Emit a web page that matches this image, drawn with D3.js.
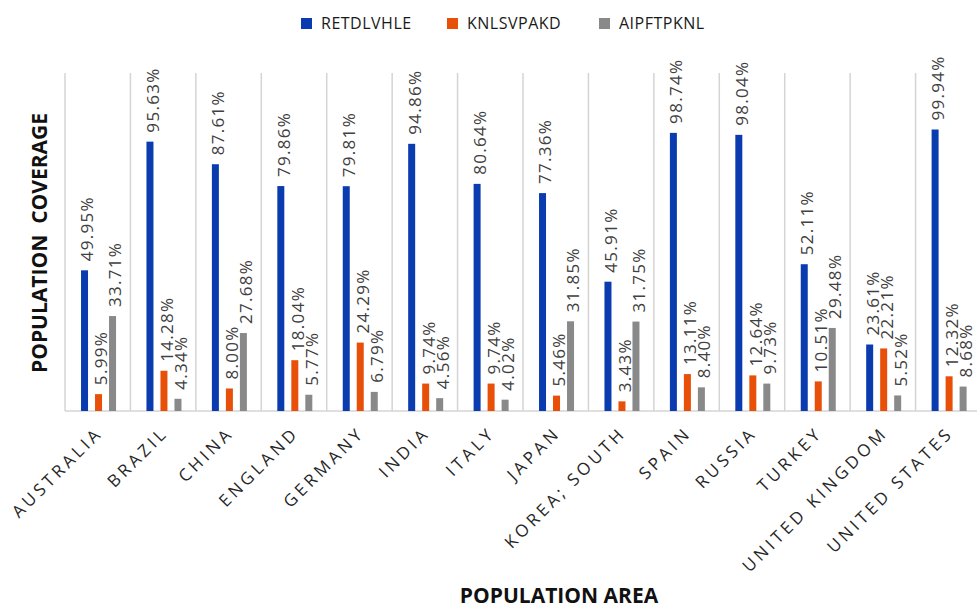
<!DOCTYPE html>
<html>
<head>
<meta charset="utf-8">
<script src="https://cdn.jsdelivr.net/npm/d3@7"></script>
<style>
  body { margin: 0; background: #fff; }
  svg { display: block; font-family: "Open Sans", sans-serif; }
  .gridLine { stroke: #d4d4d4; stroke-width: 1.5; }
  .dataLabel { font-size: 17px; fill: #404040; letter-spacing: 1.3px; }
  .catLabel { font-size: 17px; fill: #262626; letter-spacing: 3.6px; }
  .axisTitle { font-size: 21px; font-weight: bold; fill: #111; white-space: pre; }
  .legendText { font-size: 16px; fill: #1a1a1a; letter-spacing: 0.5px; }
</style>
</head>
<body>
<script>
(function(){
var categories = ["AUSTRALIA", "BRAZIL", "CHINA", "ENGLAND", "GERMANY", "INDIA", "ITALY", "JAPAN", "KOREA; SOUTH", "SPAIN", "RUSSIA", "TURKEY", "UNITED KINGDOM", "UNITED STATES"];
var seriesNames = ["RETDLVHLE", "KNLSVPAKD", "AIPFTPKNL"];
var seriesColors = ["#0a3caf", "#e8500a", "#898989"];
var retdlvhle = [49.95, 95.63, 87.61, 79.86, 79.81, 94.86, 80.64, 77.36, 45.91, 98.74, 98.04, 52.11, 23.61, 99.94];
var knlsvpakd = [5.99, 14.28, 8.00, 18.04, 24.29, 9.74, 9.74, 5.46, 3.43, 13.11, 12.64, 10.51, 22.21, 12.32];
var aipftpknl = [33.71, 4.34, 27.68, 5.77, 6.79, 4.56, 4.02, 31.85, 31.75, 8.40, 9.73, 29.48, 5.52, 8.68];
var seriesValues = [retdlvhle, knlsvpakd, aipftpknl];

var width = 977, height = 609;
var plotLeft = 65, plotRight = 981, plotTop = 73, plotBottom = 411;

var svg = d3.select("body").append("svg")
    .attr("width", width)
    .attr("height", height);

//scales
var x = d3.scaleBand()
    .domain(categories)
    .range([plotLeft, plotRight])
    .paddingInner(0);

var xInner = d3.scaleBand()
    .domain(seriesNames)
    .range([x.bandwidth() * 0.245, x.bandwidth() * 0.78])
    .paddingInner(0.5);

var y = d3.scaleLinear()
    .domain([0, 120])
    .range([plotBottom, plotTop]);

//vertical grid lines at category boundaries
var bounds = categories.map(function(c){ return x(c); }).concat([plotRight]);
svg.selectAll(".gridLine")
    .data(bounds)
    .enter()
    .append("line")
    .attr("class", "gridLine")
    .attr("x1", function(d){ return d; })
    .attr("x2", function(d){ return d; })
    .attr("y1", plotTop)
    .attr("y2", plotBottom);

//baseline
svg.append("line")
    .attr("class", "gridLine")
    .attr("x1", plotLeft)
    .attr("x2", plotRight)
    .attr("y1", plotBottom)
    .attr("y2", plotBottom);

//flatten data
var rows = [];
categories.forEach(function(c, i){
    seriesNames.forEach(function(s, j){
        rows.push({cat: c, series: s, value: seriesValues[j][i], color: seriesColors[j]});
    });
});

//bars
svg.selectAll(".bar")
    .data(rows)
    .enter()
    .append("rect")
    .attr("class", "bar")
    .attr("x", function(d){ return x(d.cat) + xInner(d.series); })
    .attr("width", xInner.bandwidth())
    .attr("y", function(d){ return y(d.value); })
    .attr("height", function(d){ return y(0) - y(d.value); })
    .style("fill", function(d){ return d.color; });

//data labels, rotated
svg.selectAll(".dataLabel")
    .data(rows)
    .enter()
    .append("text")
    .attr("class", "dataLabel")
    .attr("transform", function(d){
        var cx = x(d.cat) + xInner(d.series) + xInner.bandwidth() / 2 + 3;
        var cy = y(d.value) - 9;
        return "translate(" + cx + "," + cy + ") rotate(-90)";
    })
    .attr("dy", "0.35em")
    .attr("text-anchor", "start")
    .text(function(d){ return d.value.toFixed(2) + "%"; });

//category labels
svg.selectAll(".catLabel")
    .data(categories)
    .enter()
    .append("text")
    .attr("class", "catLabel")
    .attr("transform", function(d){
        var cx = x(d) + x.bandwidth() / 2 + 6;
        return "translate(" + cx + "," + 434 + ") rotate(-45)";
    })
    .attr("text-anchor", "end")
    .text(function(d){ return d; });

//axis titles
svg.append("text")
    .attr("class", "axisTitle")
    .attr("transform", "translate(47,243) rotate(-90)")
    .attr("text-anchor", "middle")
    .text("POPULATION  COVERAGE");

svg.append("text")
    .attr("class", "axisTitle")
    .attr("x", 559)
    .attr("y", 603)
    .attr("text-anchor", "middle")
    .text("POPULATION AREA");

//legend
var legendX = [301, 447, 599];
var legend = svg.selectAll(".legendItem")
    .data(seriesNames)
    .enter()
    .append("g")
    .attr("class", "legendItem")
    .attr("transform", function(d, i){ return "translate(" + legendX[i] + ",18)"; });

legend.append("rect")
    .attr("width", 11)
    .attr("height", 11)
    .style("fill", function(d, i){ return seriesColors[i]; });

legend.append("text")
    .attr("class", "legendText")
    .attr("x", 20)
    .attr("y", 11)
    .text(function(d){ return d; });
})();
</script>
</body>
</html>
